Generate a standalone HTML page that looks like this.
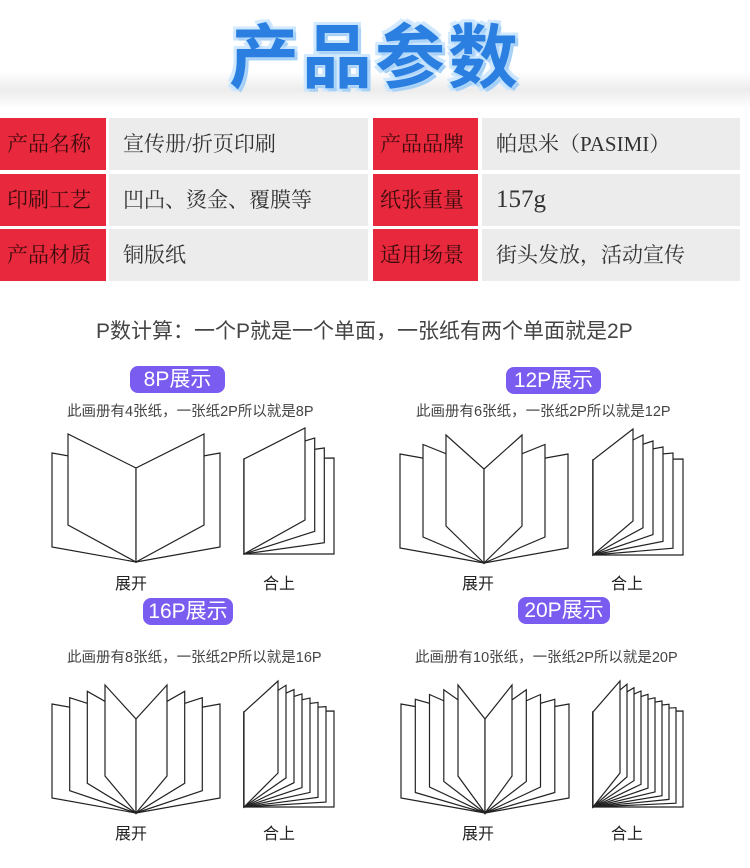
<!DOCTYPE html>
<html><head><meta charset="utf-8"><style>
body{margin:0;width:750px;height:868px;background:#fff;position:relative;overflow:hidden;font-family:"Liberation Sans","Noto Sans CJK SC",sans-serif}
.band{position:absolute;left:0;top:72px;width:750px;height:36px;background:linear-gradient(#fff,#ececec 50%,#fff)}
.title{position:absolute;left:0;width:750px;top:2px;text-align:center;font-size:70px;font-weight:bold;color:#2a7fe0;letter-spacing:3px;
text-shadow:0 0 3px #bfe0ff,0 0 3px #bfe0ff,2px 2px 2px #9cc9f5,-2px -2px 2px #dff0ff,3px 3px 0 #a9d2f7,-3px 3px 0 #cfe7ff,3px -3px 0 #cfe7ff,-3px -3px 0 #cfe7ff;font-family:"Noto Sans CJK SC",sans-serif}
.c{position:absolute;height:52px;line-height:52px;font-family:"Liberation Serif","Noto Serif CJK SC",serif;font-size:21px}
.r{background:#e8283c;color:#3a0c0c;padding-left:7px;box-sizing:border-box}
.g{background:#ececec;color:#333;padding-left:14px;box-sizing:border-box}
.t{position:absolute;white-space:nowrap;color:#444}
.pill{position:absolute;background:#7b5cf0;color:#fff;border-radius:8px;text-align:center;font-size:21px;height:27px;line-height:27px}
svg{position:absolute;left:0;top:0}
</style></head><body>
<div class="band"></div>
<div class="title">产品参数</div>

<div class="c r" style="left:0;top:118px;width:106px">产品名称</div>
<div class="c g" style="left:109px;top:118px;width:259px">宣传册/折页印刷</div>
<div class="c r" style="left:373px;top:118px;width:105px">产品品牌</div>
<div class="c g" style="left:482px;top:118px;width:258px">帕思米（PASIMI）</div>
<div class="c r" style="left:0;top:174px;width:106px">印刷工艺</div>
<div class="c g" style="left:109px;top:174px;width:259px">凹凸、烫金、覆膜等</div>
<div class="c r" style="left:373px;top:174px;width:105px">纸张重量</div>
<div class="c g" style="left:482px;top:174px;width:258px;font-size:25px">157g</div>
<div class="c r" style="left:0;top:229px;width:106px">产品材质</div>
<div class="c g" style="left:109px;top:229px;width:259px">铜版纸</div>
<div class="c r" style="left:373px;top:229px;width:105px">适用场景</div>
<div class="c g" style="left:482px;top:229px;width:258px">街头发放，活动宣传</div>

<div class="t" style="left:96px;top:315px;font-size:21px">P数计算：一个P就是一个单面，一张纸有两个单面就是2P</div>

<div class="pill" style="left:130px;top:366px;width:95px">8P展示</div>
<div class="pill" style="left:506px;top:367px;width:95px">12P展示</div>
<div class="pill" style="left:143px;top:598px;width:90px">16P展示</div>
<div class="pill" style="left:518px;top:597px;width:92px">20P展示</div>

<div class="t" style="left:67px;top:400px;font-size:14.5px">此画册有4张纸，一张纸2P所以就是8P</div>
<div class="t" style="left:416px;top:400px;font-size:14.5px">此画册有6张纸，一张纸2P所以就是12P</div>
<div class="t" style="left:67px;top:646px;font-size:14.5px">此画册有8张纸，一张纸2P所以就是16P</div>
<div class="t" style="left:415px;top:646px;font-size:14.5px">此画册有10张纸，一张纸2P所以就是20P</div>

<div class="t" style="left:115px;top:570px;font-size:16px;color:#222">展开</div>
<div class="t" style="left:263px;top:570px;font-size:16px;color:#222">合上</div>
<div class="t" style="left:462px;top:570px;font-size:16px;color:#222">展开</div>
<div class="t" style="left:611px;top:570px;font-size:16px;color:#222">合上</div>
<div class="t" style="left:115px;top:820px;font-size:16px;color:#222">展开</div>
<div class="t" style="left:263px;top:820px;font-size:16px;color:#222">合上</div>
<div class="t" style="left:462px;top:820px;font-size:16px;color:#222">展开</div>
<div class="t" style="left:611px;top:820px;font-size:16px;color:#222">合上</div>

<svg id="s" width="750" height="868"></svg>
<script>
var out='';
function poly(p){out+='<polygon points="'+p.map(function(q){return q[0].toFixed(1)+','+q[1].toFixed(1)}).join(' ')+'" fill="#fff" stroke="#222" stroke-width="1.2" stroke-linejoin="miter"/>';}
function open(cx,by,n,a){
  var b=84;
  for(var k=n-1;k>=0;k--){
    var t=n>1?k/(n-1):0;
    var off=a+(b-a)*t, yt=by-128+(128-109)*t, yb=by-37+(37-15)*t;
    [-1,1].forEach(function(s){poly([[cx,by],[cx,by-94],[cx+s*off,yt],[cx+s*off,yb]]);});
  }
}
function closed(xs,by,n,a){
  var b=90;
  for(var k=n-1;k>=0;k--){
    var t=k/(n-1);
    var xr=xs+a+(b-a)*t, yt=by-126+30*t, yb=by-34+34*t;
    poly([[xs,by],[xs,by-95],[xr,yt],[xr,yb]]);
  }
}
open(136,562,2,68);closed(244,554,4,61);
open(484,563,3,38);closed(593,555,6,40);
open(136,813,4,31);closed(244,807,8,34);
open(485,813,5,27);closed(593,807,10,27);
document.getElementById('s').innerHTML=out;
</script>
</body></html>
